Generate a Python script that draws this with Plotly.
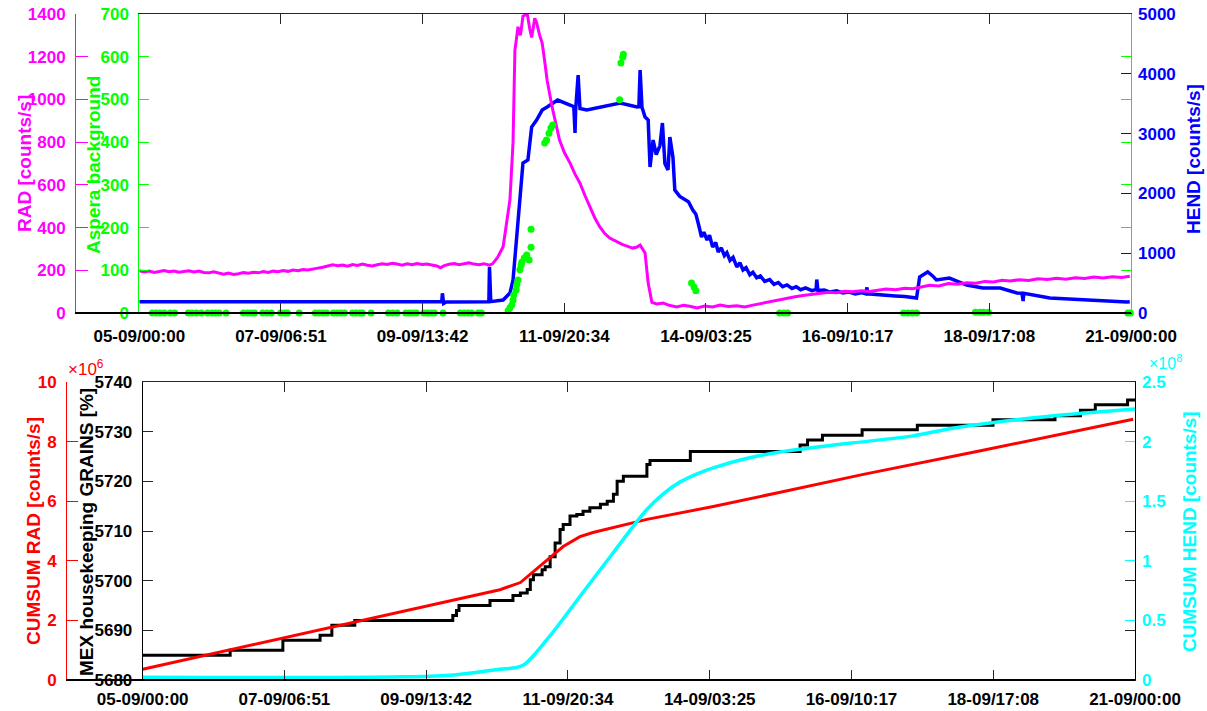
import plotly.graph_objects as go

W, H = 1207, 711

# ---------------- time axis: days since 05-09 00:00 ----------------
tick_text = ["05-09/00:00", "07-09/06:51", "09-09/13:42", "11-09/20:34",
             "14-09/03:25", "16-09/10:17", "18-09/17:08", "21-09/00:00"]
tick_days = [i * 16 / 7 for i in range(len(tick_text))]

# ---------------- RAD dose rate [counts/s] ----------------
rad_day = [0.00, 0.08, 0.16, 0.24, 0.32, 0.40, 0.48, 0.56,
           0.64, 0.72, 0.80, 0.88, 0.96, 1.04, 1.12, 1.20,
           1.28, 1.36, 1.44, 1.52, 1.60, 1.68, 1.76, 1.84,
           1.92, 2.00, 2.08, 2.16, 2.24, 2.32, 2.40, 2.48,
           2.56, 2.64, 2.72, 2.80, 2.88, 2.96, 3.04, 3.12,
           3.20, 3.28, 3.36, 3.44, 3.52, 3.60, 3.68, 3.76,
           3.84, 3.92, 4.00, 4.08, 4.16, 4.24, 4.32, 4.40,
           4.48, 4.56, 4.64, 4.72, 4.80, 4.86, 4.92, 5.00,
           5.08, 5.16, 5.24, 5.32, 5.40, 5.48, 5.56, 5.65,
           5.70, 5.78, 5.87, 5.93, 5.98, 6.03, 6.06, 6.11,
           6.15, 6.19, 6.26, 6.30, 6.33, 6.38, 6.41, 6.46,
           6.50, 6.54, 6.58, 6.66, 6.72, 6.78, 6.86, 6.95,
           7.03, 7.11, 7.19, 7.27, 7.35, 7.43, 7.51, 7.59,
           7.70, 7.80, 7.88, 7.96, 8.02, 8.08, 8.16, 8.21,
           8.27, 8.35, 8.45, 8.55, 8.67, 8.78, 8.88, 9.00,
           9.12, 9.25, 9.37, 9.50, 9.64, 9.77, 9.90, 10.03,
           10.17, 10.30, 10.45, 10.58, 10.71, 10.85, 10.98, 11.12,
           11.25, 11.38, 11.50, 11.65, 11.78, 11.92, 12.05, 12.20,
           12.35, 12.48, 12.62, 12.75, 12.90, 13.05, 13.20, 13.35,
           13.50, 13.64, 13.78, 13.92, 14.05, 14.20, 14.35, 14.50,
           14.65, 14.80, 14.95, 15.10, 15.25, 15.40, 15.55, 15.70,
           15.85, 15.98]
rad_val = [198, 192, 196, 190, 194, 199, 193, 197,
           191, 195, 198, 192, 196, 190, 188, 193,
           186, 182, 187, 180, 184, 189, 186, 191,
           188, 194, 190, 196, 193, 199, 195, 201,
           198, 204, 201, 207, 210, 214, 220, 226,
           221, 225, 219, 227, 223, 229, 224, 220,
           226, 231, 227, 233, 229, 224, 230, 226,
           232, 227, 229, 224, 220, 212, 222, 228,
           232, 226, 231, 235, 229, 226, 231, 224,
           230, 260, 310, 420, 530, 800, 1230, 1340,
           1300, 1390, 1400, 1330, 1290, 1380, 1360, 1300,
           1264, 1180, 1090, 965, 880, 810, 750, 702,
           650, 608, 550, 497, 445, 403, 372, 351,
           333, 320, 312, 304, 308, 318, 281, 140,
           50, 42, 47, 36, 28, 36, 32, 24,
           33, 28, 37, 30, 34, 28, 37, 45,
           52, 60, 68, 76, 82, 88, 92, 97,
           95, 102, 99, 104, 101, 108, 112, 109,
           116, 114, 124, 130, 127, 138, 135, 142,
           139, 148, 145, 153, 150, 156, 152, 160,
           157, 163, 158, 165, 162, 168, 164, 170,
           166, 172]

# ---------------- HEND count rate [counts/s] ----------------
hend_day = [0.0, 4.0, 4.88, 4.89, 4.91, 4.95, 5.64, 5.65, 5.67, 5.87, 5.98, 6.03,
            6.09, 6.14, 6.19, 6.27, 6.33, 6.41, 6.50, 6.58, 6.75, 6.95, 7.01, 7.03,
            7.04, 7.08, 7.11, 7.22, 7.48, 7.76, 8.03, 8.06, 8.08, 8.11, 8.16, 8.21,
            8.24, 8.29, 8.34, 8.40, 8.44, 8.48, 8.53, 8.56, 8.61, 8.64,
            8.72, 8.80, 8.86, 8.93, 8.98, 9.03, 9.07, 9.11, 9.16, 9.20,
            9.25, 9.30, 9.34, 9.39, 9.44, 9.48, 9.53, 9.58, 9.64, 9.69,
            9.74, 9.79, 9.85, 9.90, 9.96, 10.02, 10.09, 10.17, 10.24, 10.31,
            10.38, 10.45, 10.53, 10.60, 10.67, 10.75, 10.85, 10.92, 10.93, 10.95,
            11.05, 11.15, 11.25, 11.35, 11.45, 11.55, 11.65, 11.72, 11.74, 11.75,
            11.85, 11.95, 12.06, 12.20, 12.35, 12.48, 12.54, 12.59, 12.72, 12.80,
            12.86, 13.07, 13.35, 13.61, 13.89, 14.16, 14.24, 14.26, 14.27, 14.69,
            15.22, 15.66, 15.93, 15.98]
hend_val = [190, 190, 190, 330, 160, 185, 190, 770, 190, 217, 334, 552,
            1337, 1940, 2508, 2558, 3110, 3227, 3394, 3445, 3561, 3478, 3450, 3010,
            3400, 3980, 3420, 3394, 3445, 3511, 3445, 3450, 4063, 3440, 3277, 3227,
            2441, 2893, 2650, 2800, 3177, 2500, 2391, 2943, 2600, 2057,
            1950, 1900, 1860, 1722, 1650, 1450, 1271, 1350, 1220, 1300,
            1104, 1180, 1020, 1090, 960, 1010, 880, 930, 770, 840,
            720, 760, 640, 680, 590, 620, 530, 560, 480, 510,
            440, 470, 410, 440, 390, 420, 375, 395, 560, 375,
            385, 350, 370, 335, 350, 320, 340, 320, 430, 320,
            315, 300, 301, 285, 275, 268, 251, 602, 686, 620,
            552, 585, 468, 418, 418, 334, 330, 200, 330, 251,
            217, 195, 184, 190]

# ---------------- ASPERA background ----------------
asp_day = [0.21, 0.27, 0.33, 0.40, 0.50, 0.57, 0.79, 0.85, 0.92, 1.00,
           1.10, 1.17, 1.23, 1.29, 1.40, 1.68, 1.75, 1.81, 1.86, 1.99,
           2.06, 2.13, 2.28, 2.34, 2.39, 2.58, 2.84, 2.90, 2.96, 3.02,
           3.13, 3.19, 3.25, 3.31, 3.44, 3.50, 3.56, 3.60, 3.74, 4.02,
           4.09, 4.16, 4.30, 4.36, 4.42, 4.47, 4.59, 4.65, 4.71, 4.76,
           4.90, 5.18, 5.24, 5.30, 5.36, 5.47, 5.52,
           5.95, 5.98, 6.01, 6.03, 6.04, 6.08, 6.09, 6.11, 6.14, 6.16,
           6.17, 6.21, 6.25, 6.29, 6.32, 6.32, 6.54, 6.57, 6.61, 6.64,
           6.67, 7.75, 7.77, 7.80, 7.81, 8.91, 8.95, 8.98,
           10.33, 10.40, 10.46, 12.33, 12.40, 12.47, 12.54,
           13.49, 13.56, 13.62, 13.70, 15.95, 15.99]
asp_val = [0, 0, 0, 0, 0, 0, 0, 0, 0, 0,
           0, 0, 0, 0, 0, 0, 0, 0, 0, 0,
           0, 0, 0, 0, 0, 0, 0, 0, 0, 0,
           0, 0, 0, 0, 0, 0, 0, 0, 0, 0,
           0, 0, 0, 0, 0, 0, 0, 0, 0, 0,
           0, 0, 0, 0, 0, 0, 0,
           5, 12, 19, 30, 42, 54, 66, 77, 101, 112,
           119, 129, 136, 124, 154, 196, 398, 405, 421, 433,
           440, 499, 585, 599, 606, 70, 61, 52,
           0, 0, 0, 0, 0, 0, 0,
           2, 2, 2, 2, 0, 0]

# ---------------- MEX housekeeping GRAINS [%] ----------------
grains_day = [0.0, 1.41, 2.26, 2.86, 3.05, 3.42, 5.00, 5.06, 5.10, 5.60,
              5.97, 6.09, 6.20, 6.25, 6.30, 6.44, 6.49, 6.57, 6.65, 6.73,
              6.78, 6.89, 7.00, 7.10, 7.21, 7.38, 7.49, 7.59, 7.65, 7.75,
              8.13, 8.18, 8.83, 10.60, 10.72, 10.96, 11.60, 12.49, 13.71,
              14.71, 15.12, 15.36, 15.88, 16.0]
grains_val = [5685, 5686, 5688, 5689, 5691, 5692, 5693, 5694, 5695, 5696,
              5697, 5697.5, 5698.2, 5700.2, 5701.2, 5702.2, 5702.8, 5704.8, 5707.6, 5710.3,
              5711.3, 5713, 5713.3, 5714, 5714.7, 5715.4, 5716, 5717.4, 5720, 5721,
              5723.4, 5724.2, 5726, 5727.3, 5728.3, 5729.3, 5730.4, 5731.3, 5732.4,
              5733.2, 5734.3, 5735.4, 5736.4, 5736.4]

# ---------------- cumulative RAD [x1e6 counts/s] ----------------
crad_day = [0.0, 5.76, 6.09, 6.30, 6.52, 6.78, 7.05, 7.26, 8.13, 9.20,
            10.28, 11.62, 13.51, 15.97]
crad_val = [0.36, 3.03, 3.27, 3.64, 4.04, 4.48, 4.81, 4.95, 5.39, 5.82,
            6.30, 6.90, 7.69, 8.75]

# ---------------- cumulative HEND [x1e8 counts/s] ----------------
chend_day = [0.0, 3.99, 4.96, 5.76, 5.97, 6.14, 6.52, 7.05, 7.59, 8.13,
             8.39, 8.66, 8.94, 9.20, 9.75, 10.28, 11.36, 12.42, 12.97, 13.51,
             14.58, 15.65, 16.0]
chend_val = [0.023, 0.025, 0.04, 0.09, 0.10, 0.126, 0.34, 0.70, 1.07, 1.43,
             1.56, 1.66, 1.73, 1.78, 1.86, 1.913, 1.984, 2.048, 2.104, 2.146,
             2.211, 2.258, 2.273]

# ---------------- colours / fonts ----------------
MAG, GRN, BLU = "#ff00ff", "#00ff00", "#0000ff"
RED, CYN, BLK = "#ff0000", "#00ffff", "#000000"
AX = "#262626"
FAM = "Liberation Sans, Arial, sans-serif"


def fx(px):
    return px / W


def fy(py):
    return 1 - py / H


def tfont(c):
    return dict(family=FAM, size=17, color=c, weight="bold")


TOP = [fy(313), fy(14)]
BOT = [fy(680), fy(382)]
XTOP = [fx(139.3), fx(1131)]
XBOT = [fx(142.7), fx(1135)]

fig = go.Figure()

# upper panel
fig.add_trace(go.Scatter(x=hend_day, y=hend_val, mode="lines", xaxis="x", yaxis="y",
                         line=dict(color=BLU, width=3.5), showlegend=False))
fig.add_trace(go.Scatter(x=rad_day, y=rad_val, mode="lines", xaxis="x", yaxis="y2",
                         line=dict(color=MAG, width=3), showlegend=False))
fig.add_trace(go.Scatter(x=asp_day, y=asp_val, mode="markers", xaxis="x", yaxis="y3",
                         marker=dict(color=GRN, size=7), cliponaxis=False,
                         showlegend=False))

# lower panel
fig.add_trace(go.Scatter(x=grains_day, y=grains_val, mode="lines", xaxis="x2", yaxis="y4",
                         line=dict(color=BLK, width=3, shape="hv"), showlegend=False))
fig.add_trace(go.Scatter(x=crad_day, y=crad_val, mode="lines", xaxis="x2", yaxis="y5",
                         line=dict(color=RED, width=3), showlegend=False))
fig.add_trace(go.Scatter(x=chend_day, y=chend_val, mode="lines", xaxis="x2", yaxis="y6",
                         line=dict(color=CYN, width=3.5, shape="spline"), showlegend=False))

xcommon = dict(range=[0, 16], tickvals=tick_days, ticktext=tick_text, ticks="inside",
               ticklen=10, tickcolor=AX, showline=True, linecolor=AX, linewidth=1,
               mirror="ticks", showgrid=False, zeroline=False, tickfont=tfont(BLK),
               automargin=False)


def yax(color, rng, dtick, **kw):
    d = dict(range=rng, dtick=dtick, ticks="inside", ticklen=10, tickcolor=color,
             linecolor=color, linewidth=1, showgrid=False, zeroline=False,
             tickfont=tfont(color), ticklabelstandoff=6, automargin=False)
    d.update(kw)
    return d


fig.update_layout(
    width=W, height=H,
    margin=dict(l=0, r=0, t=0, b=0),
    paper_bgcolor="white", plot_bgcolor="white",
    xaxis=dict(domain=XTOP, anchor="y", ticklabelstandoff=8, **xcommon),
    xaxis2=dict(domain=XBOT, anchor="y4", ticklabelstandoff=4, **xcommon),
    yaxis=yax(BLU, [0, 5000], 1000, domain=TOP, anchor="x", side="right",
              showline=False),
    yaxis2=yax(MAG, [0, 1400], 200, overlaying="y", anchor="free",
               position=fx(75), side="left", showline=True, ticklen=12),
    yaxis3=yax(GRN, [0, 700], 100, overlaying="y", anchor="x", side="left",
               showline=True, mirror="ticks"),
    yaxis4=yax(BLK, [5680, 5740], 10, domain=BOT, anchor="x2", side="left",
               showline=True, mirror="ticks", tickcolor=AX),
    yaxis5=yax(RED, [0, 10], 2, overlaying="y4", anchor="free",
               position=fx(66), side="left", showline=True, ticklen=11),
    yaxis6=yax(CYN, [0, 2.5], 0.5, overlaying="y4", anchor="x2", side="right",
               showline=False),
)

# baseline of the outer RAD axes joining the main box
fig.add_shape(type="line", xref="paper", yref="paper", x0=fx(75), x1=XTOP[1],
              y0=fy(313), y1=fy(313), line=dict(color=BLK, width=2))
fig.add_shape(type="line", xref="paper", yref="paper", x0=fx(66), x1=XBOT[1],
              y0=fy(680), y1=fy(680), line=dict(color=BLK, width=2))


def vtitle(text, px, py, color):
    fig.add_annotation(text=text, x=fx(px), y=fy(py), xref="paper", yref="paper",
                       textangle=-90, showarrow=False, xanchor="center",
                       yanchor="middle",
                       font=dict(family=FAM, size=19, color=color, weight="bold"))


vtitle("RAD [counts/s]", 24, 164, MAG)
vtitle("Aspera background", 93, 165, GRN)
vtitle("HEND [counts/s]", 1194, 159, BLU)
vtitle("CUMSUM RAD [counts/s]", 33, 531, RED)
vtitle("MEX housekeeping GRAINS [%]", 86, 532, BLK)
vtitle("CUMSUM HEND [counts/s]", 1189, 532, CYN)

# axis multipliers
fig.add_annotation(text="×10<sup>6</sup>", x=fx(66), y=fy(368), xref="paper", yref="paper",
                   showarrow=False, xanchor="left", yanchor="middle",
                   font=dict(family=FAM, size=17, color=RED))
fig.add_annotation(text="×10<sup>8</sup>", x=fx(1147), y=fy(362), xref="paper", yref="paper",
                   showarrow=False, xanchor="left", yanchor="middle",
                   font=dict(family=FAM, size=16, color=CYN))

fig.write_html("out.html")
